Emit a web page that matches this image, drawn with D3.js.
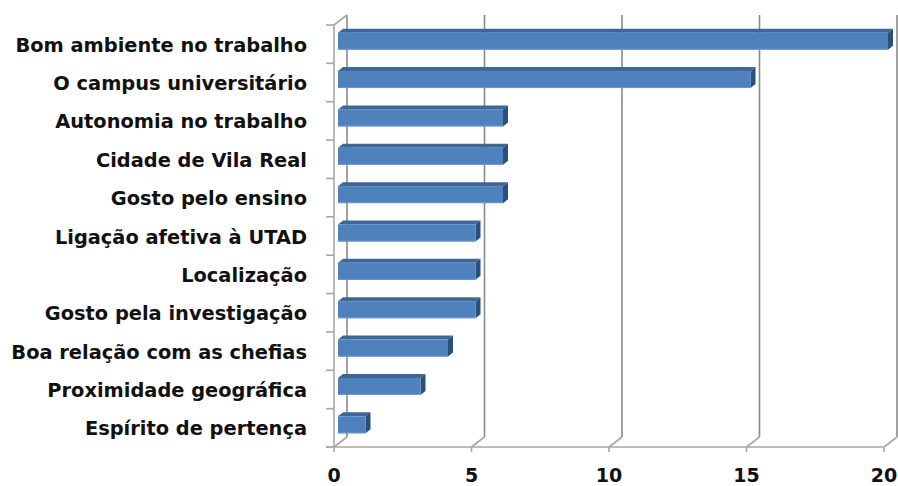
<!DOCTYPE html>
<html>
<head>
<meta charset="utf-8">
<script src="https://cdn.jsdelivr.net/npm/d3@7"></script>
<style>
  html, body { margin: 0; padding: 0; background: #ffffff; }
  svg { display: block; }
  text { font-family: "DejaVu Sans", Verdana, sans-serif; font-weight: bold; fill: #111; }
</style>
</head>
<body>
<svg id="chart" width="898" height="486"></svg>
<script>
// Reasons for staying, number of answers per category
const categories = [
  "Bom ambiente no trabalho",
  "O campus universitário",
  "Autonomia no trabalho",
  "Cidade de Vila Real",
  "Gosto pelo ensino",
  "Ligação afetiva à UTAD",
  "Localização",
  "Gosto pela investigação",
  "Boa relação com as chefias",
  "Proximidade geográfica",
  "Espírito de pertença"
];
const values = [20, 15, 6, 6, 6, 5, 5, 5, 4, 3, 1];
const xTicks = [0, 5, 10, 15, 20];

const svg = d3.select("#chart");

// Front plane of the 3D box
const plotLeft = 334, plotRight = 884, plotTop = 25, plotFloor = 447;
// Offset from the front plane to the back wall
const depthX = 13, depthY = -10;

const x = d3.scaleLinear().domain([0, 20]).range([plotLeft, plotRight]);
const y = d3.scaleBand().domain(categories).range([plotTop, plotFloor]).paddingInner(0).paddingOuter(0);

const gridColor = "#8a8a8a";
const axisColor = "#a6a6a6";

const g = svg.append("g");

// Back wall gridlines with floor diagonals
xTicks.forEach(t => {
  const fx = x(t);
  g.append("line")
    .attr("x1", fx + depthX).attr("y1", plotTop + depthY)
    .attr("x2", fx + depthX).attr("y2", plotFloor + depthY)
    .attr("stroke", gridColor).attr("stroke-width", 1.6);
  g.append("line")
    .attr("x1", fx).attr("y1", plotFloor)
    .attr("x2", fx + depthX).attr("y2", plotFloor + depthY)
    .attr("stroke", axisColor).attr("stroke-width", 1.6);
});

// Left side wall: front edge and top diagonal
g.append("line")
  .attr("x1", plotLeft).attr("y1", plotTop).attr("x2", plotLeft).attr("y2", plotFloor)
  .attr("stroke", axisColor).attr("stroke-width", 1.6);
g.append("line")
  .attr("x1", plotLeft).attr("y1", plotTop).attr("x2", plotLeft + depthX).attr("y2", plotTop + depthY)
  .attr("stroke", axisColor).attr("stroke-width", 1.6);

// Category ticks on the left edge
const bounds = categories.map(c => y(c)).concat([plotFloor]);
bounds.forEach(b => {
  g.append("line")
    .attr("x1", plotLeft - 8).attr("y1", b).attr("x2", plotLeft).attr("y2", b)
    .attr("stroke", axisColor).attr("stroke-width", 1.6);
});

// Floor front edge and value ticks
g.append("line")
  .attr("x1", plotLeft - 8).attr("y1", plotFloor).attr("x2", plotRight).attr("y2", plotFloor)
  .attr("stroke", axisColor).attr("stroke-width", 1.6);
xTicks.forEach(t => {
  g.append("line")
    .attr("x1", x(t)).attr("y1", plotFloor).attr("x2", x(t)).attr("y2", plotFloor + 5)
    .attr("stroke", axisColor).attr("stroke-width", 1.6);
});

// 3D bars: front face sits part-way into the depth
const fX = 4, fY = -3;       // front face offset
const bX = 5, bY = -4;       // bar thickness along depth
const barH = 17;

const bars = g.append("g").selectAll("g.bar")
  .data(categories.map((c, i) => ({ c, v: values[i] })))
  .join("g").attr("class", "bar");

bars.each(function(d) {
  const sel = d3.select(this);
  const x0 = x(0) + fX;
  const x1 = x(d.v) + fX;
  const yc = y(d.c) + y.bandwidth() / 2 + fY;
  const y0 = yc - barH / 2;
  const y1 = yc + barH / 2;
  // top face
  sel.append("path")
    .attr("d", `M${x0},${y0} L${x0 + bX},${y0 + bY} L${x1 + bX},${y0 + bY} L${x1},${y0} Z`)
    .attr("fill", "#3d6699");
  // end face
  sel.append("path")
    .attr("d", `M${x1},${y0} L${x1 + bX},${y0 + bY} L${x1 + bX},${y1 + bY} L${x1},${y1} Z`)
    .attr("fill", "#2c4e7a");
  // front face
  sel.append("rect")
    .attr("x", x0).attr("y", y0)
    .attr("width", x1 - x0).attr("height", barH)
    .attr("fill", "#4f81bd");
  sel.append("line")
    .attr("x1", x0).attr("y1", y1 - 0.5).attr("x2", x1).attr("y2", y1 - 0.5)
    .attr("stroke", "#6d97cc").attr("stroke-width", 1);
});

// Category labels
g.append("g").selectAll("text")
  .data(categories)
  .join("text")
  .attr("x", 307)
  .attr("y", c => y(c) + y.bandwidth() / 2 + 2)
  .attr("text-anchor", "end")
  .attr("dominant-baseline", "middle")
  .attr("font-size", 19.4)
  .text(c => c);

// Value axis labels
g.append("g").selectAll("text")
  .data(xTicks)
  .join("text")
  .attr("x", t => x(t))
  .attr("y", 476)
  .attr("text-anchor", "middle")
  .attr("dominant-baseline", "middle")
  .attr("font-size", 19)
  .text(t => t);
</script>
</body>
</html>
